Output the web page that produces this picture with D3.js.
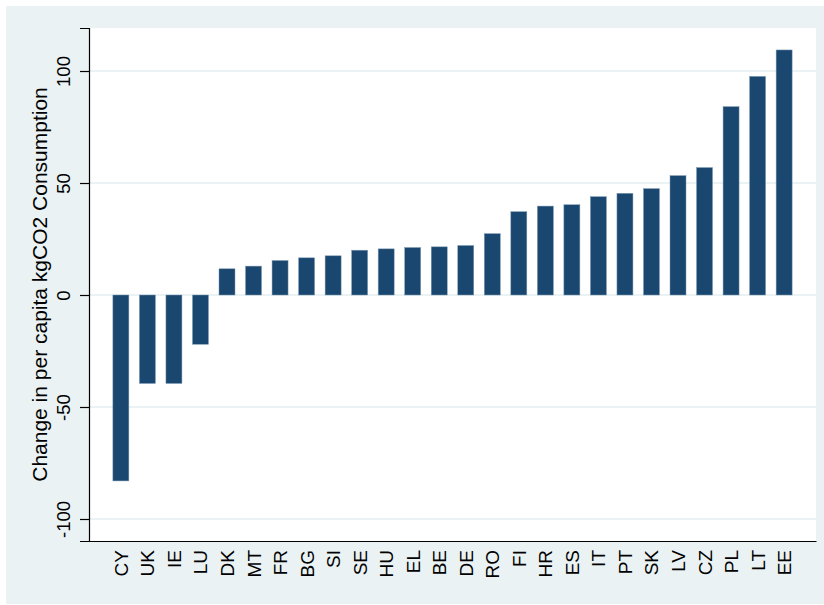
<!DOCTYPE html>
<html>
<head>
<meta charset="utf-8">
<script src="https://cdn.jsdelivr.net/npm/d3@7"></script>
<style>
  html, body { margin: 0; padding: 0; background: #ffffff; }
  svg { display: block; }
  text { font-family: "Liberation Sans", Arial, sans-serif; fill: #000; }
</style>
</head>
<body>
<svg id="chart" width="824" height="605"></svg>
<script>
const categories = ["CY","UK","IE","LU","DK","MT","FR","BG","SI","SE","HU","EL","BE","DE","RO","FI","HR","ES","IT","PT","SK","LV","CZ","PL","LT","EE"];
const values = [-83.0,-39.5,-39.5,-22.0,11.7,12.9,15.4,16.6,17.5,20.0,20.6,21.2,21.5,22.1,27.4,37.2,39.7,40.3,43.9,45.4,47.5,53.3,56.9,84.1,97.6,109.4];
const yTicks = [-100,-50,0,50,100];
const yTitle = "Change in per capita kgCO2 Consumption";

const svg = d3.select("#chart");
const W = 824, H = 605;
const plot = {left: 89, right: 816, top: 28, bottom: 541};

// outer background
svg.append("rect").attr("x", 6).attr("y", 6).attr("width", W - 6).attr("height", 598)
  .attr("fill", "#eaf2f3");
// plot area
svg.append("rect").attr("x", plot.left).attr("y", plot.top)
  .attr("width", plot.right - plot.left).attr("height", plot.bottom - plot.top)
  .attr("fill", "#ffffff");

const x = d3.scaleBand().domain(categories).range([plot.left, plot.right])
  .paddingInner(0.397).paddingOuter(0.9);
const y = d3.scaleLinear().domain([-109.82, 119.2]).range([plot.bottom, plot.top]);

// gridlines
svg.append("g").selectAll("line").data(yTicks).join("line")
  .attr("x1", plot.left).attr("x2", plot.right)
  .attr("y1", d => y(d)).attr("y2", d => y(d))
  .attr("stroke", "#eaf2f3").attr("stroke-width", 2);

// bars
svg.append("g").selectAll("rect").data(values).join("rect")
  .attr("x", (d, i) => x(categories[i]))
  .attr("width", x.bandwidth())
  .attr("y", d => y(Math.max(0, d)))
  .attr("height", d => Math.abs(y(d) - y(0)))
  .attr("fill", "#1a476f")
  .attr("stroke", "#7f9bb5").attr("stroke-width", 0.5);

// y axis
const yAxis = d3.axisLeft(y).tickValues(yTicks).tickSize(9).tickFormat(d => String(d));
const gy = svg.append("g").attr("transform", `translate(${plot.left},0)`).call(yAxis);
gy.select(".domain").attr("stroke", "#000").attr("stroke-width", 1.2);
gy.selectAll(".tick line").attr("stroke", "#000").attr("stroke-width", 1.2);
gy.selectAll(".tick text")
  .attr("font-size", 18.5)
  .attr("font-family", "Liberation Sans, Arial, sans-serif")
  .attr("text-anchor", "middle")
  .attr("x", 0).attr("y", 0).attr("dy", 0)
  .attr("transform", "translate(-19,0) rotate(-90)");

// x axis
const xAxis = d3.axisBottom(x).tickSize(0);
const gx = svg.append("g").attr("transform", `translate(0,${plot.bottom})`).call(xAxis);
gx.select(".domain").attr("stroke", "#000").attr("stroke-width", 1.2);
gx.selectAll(".tick text")
  .attr("font-size", 19)
  .attr("font-family", "Liberation Sans, Arial, sans-serif")
  .attr("text-anchor", "end")
  .attr("x", 0).attr("y", 0).attr("dy", 0)
  .attr("transform", "translate(7,9) rotate(-90)");

// y title
svg.append("text")
  .attr("transform", `translate(47,${(plot.top + plot.bottom) / 2}) rotate(-90)`)
  .attr("text-anchor", "middle")
  .attr("font-size", 21)
  .text(yTitle);
</script>
</body>
</html>
